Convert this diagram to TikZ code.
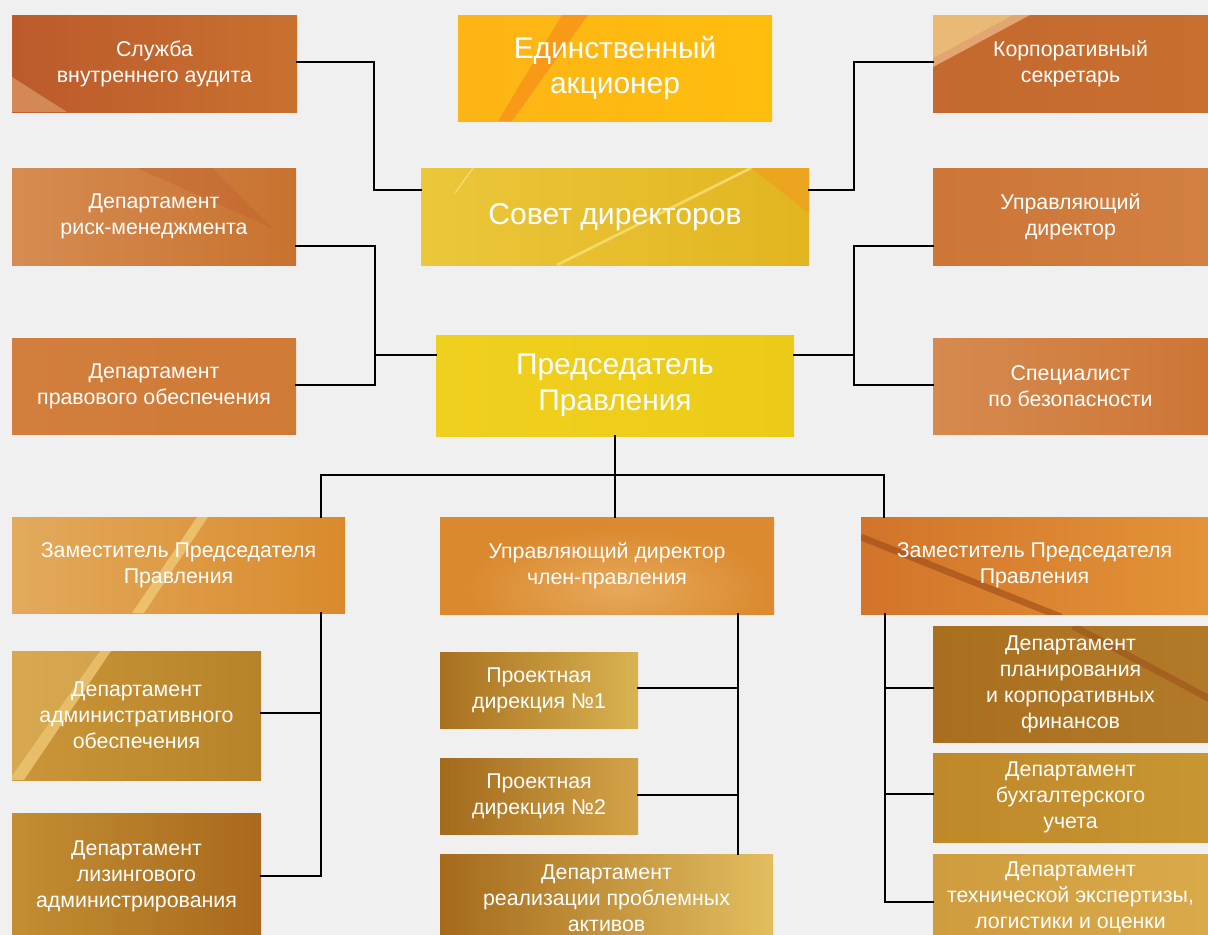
\documentclass[tikz,border=0pt]{standalone}
\usepackage{fontspec}
\setmainfont{Liberation Sans}
\tikzset{
  obox/.style={rectangle, inner sep=0pt, text=white, align=center, font=\fontsize{16pt}{19.5pt}\selectfont},
  bigbox/.style={obox, font=\fontsize{22.4pt}{26pt}\selectfont},
  link/.style={draw=black, line width=2.2pt, line cap=rect, line join=miter}
}
\definecolor{bg}{HTML}{F0F0F0}
\definecolor{audL}{HTML}{BC5A2C}\definecolor{audR}{HTML}{C8712F}
\definecolor{riskL}{HTML}{D68C52}\definecolor{riskR}{HTML}{C8722F}
\definecolor{legL}{HTML}{D27E3E}\definecolor{legR}{HTML}{CF7A35}
\definecolor{corL}{HTML}{C4692F}\definecolor{corR}{HTML}{C76F2F}
\definecolor{mgrL}{HTML}{CC7637}\definecolor{mgrR}{HTML}{D28042}
\definecolor{secL}{HTML}{D68A4F}\definecolor{secR}{HTML}{CD7636}
\definecolor{ownL}{HTML}{FDB415}\definecolor{ownR}{HTML}{FFBE0E}
\definecolor{bodL}{HTML}{EBC73A}\definecolor{bodR}{HTML}{E2B520}
\definecolor{chL}{HTML}{F0D01E}\definecolor{chR}{HTML}{ECCB18}
\definecolor{dlL}{HTML}{E2AA5C}\definecolor{dlR}{HTML}{D98A2C}
\definecolor{mdL}{HTML}{DB892E}\definecolor{mdR}{HTML}{DB8A30}
\definecolor{mdC}{HTML}{E6A95A}
\definecolor{drL}{HTML}{D2742A}\definecolor{drR}{HTML}{E39337}
\definecolor{admL}{HTML}{CA9638}\definecolor{admR}{HTML}{B7832A}
\definecolor{lisL}{HTML}{C28E33}\definecolor{lisR}{HTML}{A9691C}
\definecolor{p1L}{HTML}{A8701F}\definecolor{p1R}{HTML}{D9B352}
\definecolor{p2L}{HTML}{A36A1C}\definecolor{p2R}{HTML}{D2A448}
\definecolor{reaL}{HTML}{A56A1B}\definecolor{reaR}{HTML}{E2BE60}
\definecolor{plaL}{HTML}{A96F1F}\definecolor{plaR}{HTML}{B27A28}
\definecolor{accL}{HTML}{BF8829}\definecolor{accR}{HTML}{C89633}
\definecolor{tecL}{HTML}{CF9C3E}\definecolor{tecR}{HTML}{D9AA4A}
\definecolor{stOr}{HTML}{F7901A}
\definecolor{stLt}{HTML}{F6E27A}
\definecolor{stPe}{HTML}{E6AE78}
\definecolor{stGd}{HTML}{F2CC7A}
\definecolor{stDk}{HTML}{9A4A18}
% background of a box: x1 y1 x2 y2 leftcolour rightcolour decoration(relative px)
\newcommand\boxbg[7]{%
  \begin{scope}
    \clip (#1,#2) rectangle (#3,#4);
    \shade[left color=#5, right color=#6] (#1,#2) rectangle (#3,#4);
    \begin{scope}[shift={(#1,#2)}]#7\end{scope}
  \end{scope}}
% text node of a box: style name x1 y1 x2 y2 text
\newcommand\orgnode[7]{%
  \node[#1, minimum width={(#5-#3)*0.75pt}, minimum height={(#6-#4)*0.75pt}] (#2) at ({(#3+#5)/2},{(#4+#6)/2}) {#7};}
\begin{document}
\begin{tikzpicture}[x=0.75pt,y=-0.75pt]
\fill[bg] (0,0) rectangle (1208,935);
\useasboundingbox (0,0) rectangle (1208,935);
\clip (0,0) rectangle (1208,935);
% ---------- box backgrounds ----------
\boxbg{12}{15}{297}{112}{audL}{audR}{\fill[stPe, opacity=.55] (0,62) -- (55,97) -- (0,97) -- cycle;}
\boxbg{12}{168}{296}{265}{riskL}{riskR}{\fill[audL, opacity=.3] (125,0) -- (200,0) -- (260,60) -- cycle;}
\boxbg{12}{338}{296}{434}{legL}{legR}{}
\boxbg{458}{15}{772}{121}{ownL}{ownR}{\fill[stOr, opacity=.75] (104,0) -- (130,0) -- (54,106) -- (40,106) -- cycle;}
\boxbg{421}{168}{809}{265}{bodL}{bodR}{\fill[stOr, opacity=.45] (330,0) -- (388,0) -- (388,45) -- cycle; \draw[stLt, line width=2pt, opacity=.8] (330,0) -- (136,97); \draw[stLt, line width=1pt, opacity=.8] (52,0) -- (34,25);}
\boxbg{436}{335}{794}{436}{chL}{chR}{}
\boxbg{933}{15}{1208}{112}{corL}{corR}{\fill[stPe, opacity=.9] (0,0) -- (97,0) -- (0,52) -- cycle; \fill[stGd, opacity=.5] (0,0) -- (80,0) -- (0,43) -- cycle;}
\boxbg{933}{168}{1208}{265}{mgrL}{mgrR}{}
\boxbg{933}{338}{1208}{434}{secL}{secR}{}
\boxbg{12}{517}{345}{613}{dlL}{dlR}{\fill[stGd, opacity=.75] (185,0) -- (196,0) -- (132,96) -- (120,96) -- cycle;}
\boxbg{12}{651}{261}{780}{admL}{admR}{\fill[stGd, opacity=.35] (0,0) -- (88,0) -- (0,125) -- cycle; \fill[stGd, opacity=.75] (88,0) -- (99,0) -- (12,129) -- (0,129) -- (0,125) -- cycle;}
\boxbg{12}{813}{261}{939}{lisL}{lisR}{}
\boxbg{440}{517}{774}{614}{mdL}{mdR}{\shade[inner color=mdC, outer color=mdR] (180,72) ellipse [x radius=150, y radius=60];}
\boxbg{440}{652}{638}{728}{p1L}{p1R}{}
\boxbg{440}{758}{638}{834}{p2L}{p2R}{}
\boxbg{440}{854}{773}{942}{reaL}{reaR}{}
\boxbg{861}{517}{1208}{614}{drL}{drR}{\draw[stDk, line width=5pt, opacity=.6] (0,20) -- (200,100);}
\boxbg{933}{626}{1208}{742}{plaL}{plaR}{\draw[stDk, line width=5pt, opacity=.5] (140,0) -- (290,80);}
\boxbg{933}{753}{1208}{842}{accL}{accR}{}
\boxbg{933}{854}{1208}{940}{tecL}{tecR}{}
% ---------- nodes ----------
\orgnode{obox}{aud}{12}{15}{297}{112}{Служба\\внутреннего аудита}
\orgnode{obox}{risk}{12}{168}{296}{265}{Департамент\\риск-менеджмента}
\orgnode{obox}{legal}{12}{338}{296}{434}{Департамент\\правового обеспечения}
\orgnode{bigbox}{owner}{458}{15}{772}{121}{Единственный\\акционер}
\orgnode{bigbox, font=\fontsize{22.6pt}{26pt}\selectfont}{board}{421}{170}{809}{265}{Совет директоров}
\orgnode{bigbox, font=\fontsize{22.4pt}{27pt}\selectfont}{chair}{436}{335}{794}{436}{Председатель\\Правления}
\orgnode{obox}{corp}{933}{15}{1208}{112}{Корпоративный\\секретарь}
\orgnode{obox}{mgr}{933}{168}{1208}{265}{Управляющий\\директор}
\orgnode{obox}{sec}{933}{338}{1208}{434}{Специалист\\по безопасности}
\orgnode{obox}{depL}{12}{517}{345}{613}{Заместитель Председателя\\Правления}
\orgnode{obox}{adm}{12}{651}{261}{780}{Департамент\\административного\\обеспечения}
\orgnode{obox}{lease}{12}{813}{261}{939}{Департамент\\лизингового\\администрирования}
\orgnode{obox}{md}{440}{517}{774}{614}{Управляющий директор\\член-правления}
\orgnode{obox}{pd1}{440}{652}{638}{728}{Проектная\\дирекция №1}
\orgnode{obox}{pd2}{440}{758}{638}{834}{Проектная\\дирекция №2}
\orgnode{obox}{real}{440}{854}{773}{942}{Департамент\\реализации проблемных\\активов}
\orgnode{obox}{depR}{861}{517}{1208}{614}{Заместитель Председателя\\Правления}
\orgnode{obox}{plan}{933}{626}{1208}{742}{Департамент\\планирования\\и корпоративных\\финансов}
\orgnode{obox}{acc}{933}{753}{1208}{842}{Департамент\\бухгалтерского\\учета}
\orgnode{obox}{tech}{933}{854}{1208}{940}{Департамент\\технической экспертизы,\\логистики и оценки}
% ---------- junctions ----------
\coordinate (jTL) at (374,62);
\coordinate (jTR) at (854,62);
\coordinate (jML) at (375,246);
\coordinate (jMR) at (854,246);
\coordinate (bus) at (615,475);
% ---------- connectors (top) ----------
\draw[link] (aud.east |- 0,62) -| (jTL) |- (board.west |- 0,190);
\draw[link] (board.east |- 0,190) -| (jTR |- 0,190) |- (corp.west |- 0,62);
\draw[link] (risk.east |- 0,246) -| (jML) |- (legal.east |- 0,385);
\draw[link] (jML |- 0,355) -- (chair.west |- 0,355);
\draw[link] (mgr.west |- 0,246) -| (jMR) |- (sec.west |- 0,385);
\draw[link] (jMR |- 0,355) -- (chair.east |- 0,355);
% ---------- connectors (bottom) ----------
\draw[link] (chair.south) -- (bus);
\draw[link] (depL.north -| 321,0) |- (bus) -| (depR.north -| 884,0);
\draw[link] (bus) -- (bus |- md.north);
\draw[link] (depL.south -| 321,0) |- (lease.east |- 0,876);
\draw[link] (adm.east |- 0,713) -- (321,713);
\draw[link] (md.south -| 738,0) -- (real.north -| 738,0);
\draw[link] (pd1.east |- 0,688) -- (738,688);
\draw[link] (pd2.east |- 0,795) -- (738,795);
\draw[link] (depR.south -| 885,0) |- (tech.west |- 0,902);
\draw[link] (plan.west |- 0,688) -- (885,688);
\draw[link] (acc.west |- 0,794) -- (885,794);
\end{tikzpicture}
\end{document}
